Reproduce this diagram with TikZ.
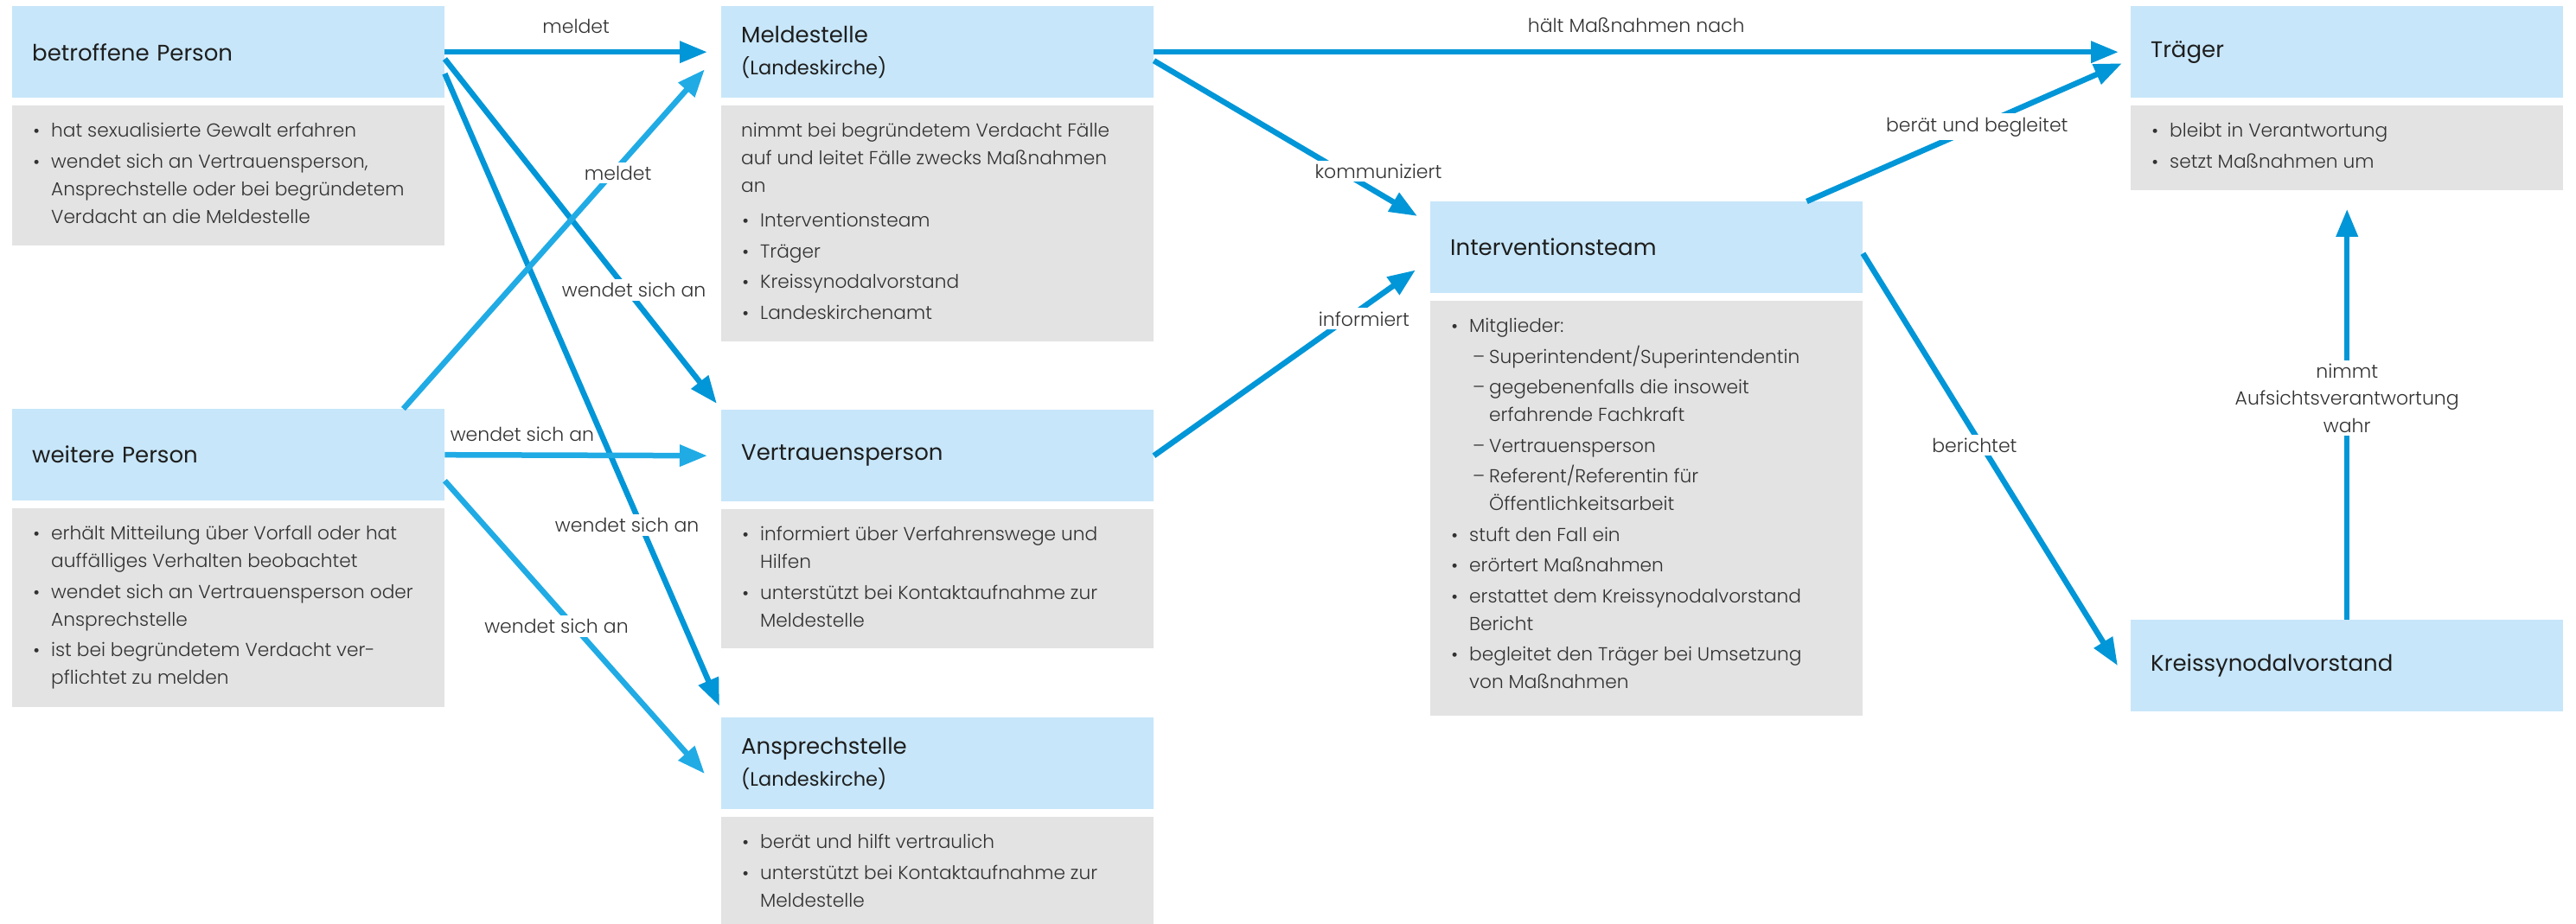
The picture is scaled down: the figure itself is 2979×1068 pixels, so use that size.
\documentclass[tikz,border=0pt]{standalone}
\usepackage{fontspec}
\IfFontExistsTF{Poppins Light}{\setmainfont{Poppins Light}}{\setmainfont{Poppins}}
\newfontfamily\kopffont{Poppins}
\usetikzlibrary{arrows.meta,positioning}

\definecolor{kopfblau}{RGB}{199,230,249}
\definecolor{kastengrau}{RGB}{227,227,228}
\definecolor{pfeildunkel}{RGB}{0,150,215}
\definecolor{pfeilhell}{RGB}{32,171,229}
\definecolor{schrift}{RGB}{50,50,50}
\definecolor{kopfschrift}{RGB}{30,30,30}

\newcommand{\punkt}{{\kopffont\fontsize{20}{20}\selectfont\textbullet}}
\newcommand{\pkt}{\par\hangindent=22pt\hangafter=1\noindent\strut\makebox[22pt][l]{\hspace*{1pt}\punkt}}
\newcommand{\strich}{\par\hangindent=45pt\hangafter=1\noindent\strut\hspace*{26pt}\makebox[19pt][l]{–}}
\newcommand{\inhalt}[2]{\parbox[c][#1][t]{454pt}{\setlength{\parskip}{3.5pt}\vspace*{11pt}#2}}
\newcommand{\zusatz}[1]{{\fontsize{22.5}{37}\selectfont #1}}

\tikzset{
  kopf/.style={anchor=north west, fill=kopfblau, text=kopfschrift
    , minimum width=500pt, minimum height=106pt, text width=454pt
    , inner xsep=23pt, inner ysep=0pt, align=left
    , font=\kopffont\fontsize{26}{37}\selectfont},
  liste/.style={fill=kastengrau, text=schrift, inner xsep=23pt, inner ysep=0pt
    , font=\fontsize{21.7}{32}\selectfont},
  pfeil/.style={-{Triangle[length=32pt,width=24pt]}, line width=6.5pt, pfeildunkel},
  hellpfeil/.style={pfeil, pfeilhell},
  lbl/.style={text=schrift, inner sep=3pt, font=\fontsize{22}{31.5}\selectfont},
  cut/.style={lbl, fill=white, inner sep=4pt}
}

\begin{document}
\begin{tikzpicture}[x=1pt, y=-1pt]
    \useasboundingbox (0,0) rectangle (2979,1068);

    \node[kopf] (betroffen) at (14,7) {betroffene Person};
    \node[liste, below=8pt of betroffen.south west, anchor=north west] (betroffenText)
      {\inhalt{162pt}{\pkt hat sexualisierte Gewalt erfahren
       \pkt wendet sich an Vertrauensperson,\\ Ansprechstelle oder bei begründetem\\ Verdacht an die Meldestelle}};

    \node[kopf] (weitere) at (14,473) {weitere Person};
    \node[liste, below=8pt of weitere.south west, anchor=north west] (weitereText)
      {\inhalt{230pt}{\pkt erhält Mitteilung über Vorfall oder hat\\ auffälliges Verhalten beobachtet
       \pkt wendet sich an Vertrauensperson oder\\ Ansprechstelle
       \pkt ist bei begründetem Verdacht ver-\\ pflichtet zu melden}};

    \node[kopf] (melde) at (834,7) {Meldestelle\\\zusatz{(Landeskirche)}};
    \node[liste, below=8pt of melde.south west, anchor=north west] (meldeText)
      {\inhalt{273pt}{\strut nimmt bei begründetem Verdacht Fälle\\ auf und leitet Fälle zwecks Maßnahmen\\ an
       \par\vspace{4.5pt}
       \pkt Interventionsteam \pkt Träger \pkt Kreissynodalvorstand \pkt Landeskirchenamt}};

    \node[kopf] (vertrauen) at (834,474) {Vertrauensperson};
    \node[liste, below=8pt of vertrauen.south west, anchor=north west] (vertrauenText)
      {\inhalt{161pt}{\pkt informiert über Verfahrenswege und\\ Hilfen
       \pkt unterstützt bei Kontaktaufnahme zur\\ Meldestelle}};

    \node[kopf] (ansprech) at (834,830) {Ansprechstelle\\\zusatz{(Landeskirche)}};
    \node[liste, below=8pt of ansprech.south west, anchor=north west] (ansprechText)
      {\inhalt{140pt}{\pkt berät und hilft vertraulich
       \pkt unterstützt bei Kontaktaufnahme zur\\ Meldestelle}};

    \node[kopf] (interv) at (1654,233) {Interventionsteam};
    \node[liste, below=8pt of interv.south west, anchor=north west] (intervText)
      {\inhalt{480pt}{\pkt Mitglieder:
       \strich Superintendent/Superintendentin
       \strich gegebenenfalls die insoweit\\ erfahrende Fachkraft
       \strich Vertrauensperson
       \strich Referent/Referentin für\\ Öffentlichkeitsarbeit
       \pkt stuft den Fall ein
       \pkt erörtert Maßnahmen
       \pkt erstattet dem Kreissynodalvorstand\\ Bericht
       \pkt begleitet den Träger bei Umsetzung\\ von Maßnahmen}};

    \node[kopf] (traeger) at (2464,7) {Träger};
    \node[liste, below=8pt of traeger.south west, anchor=north west] (traegerText)
      {\inhalt{98pt}{\pkt bleibt in Verantwortung \pkt setzt Maßnahmen um}};

    \node[kopf] (kreis) at (2464,717) {Kreissynodalvorstand};

    \draw[pfeil] (betroffen.east) -- node[lbl, midway, yshift=30pt] {meldet} ([xshift=-16pt]melde.west);
    \draw[pfeil] ([yshift=-8pt]betroffen.east) -- node[cut, pos=0.67, xshift=8pt] {wendet sich an} ([xshift=-5pt,yshift=7pt]vertrauen.north west);
    \draw[pfeil] ([yshift=-25pt]betroffen.east) -- node[cut, pos=0.714, xshift=-16pt] {wendet sich an} ([xshift=-2pt,yshift=13pt]ansprech.north west);

    \draw[hellpfeil] ([xshift=-48pt]weitere.north east) -- node[cut, pos=0.695, xshift=6pt] {meldet} ([xshift=-19pt,yshift=-20pt]melde.west);
    \draw[hellpfeil] (weitere.east) -- node[lbl, pos=0.295, yshift=24pt] {wendet sich an} ([xshift=-16pt]vertrauen.west);
    \draw[hellpfeil] ([yshift=-30pt]weitere.east) -- node[cut, pos=0.496, xshift=-20pt] {wendet sich an} ([xshift=-19pt,yshift=-12pt]ansprech.west);

    \draw[pfeil] (melde.east) -- node[lbl, midway, yshift=31pt] {hält Maßnahmen nach} ([xshift=-14pt]traeger.west);
    \draw[pfeil] ([yshift=-10pt]melde.east) -- node[cut, pos=0.711, xshift=43pt] {kommuniziert} ([xshift=-15pt,yshift=-17pt]interv.north west);
    \draw[pfeil] (vertrauen.east) -- node[cut, pos=0.737, xshift=20pt] {informiert} ([xshift=-17pt,yshift=27pt]interv.south west);

    \draw[pfeil] ([xshift=-65pt]interv.north east) -- node[cut, pos=0.54] {berät und begleitet} ([xshift=-10pt,yshift=-13pt]traeger.west);
    \draw[pfeil] ([yshift=-7pt]interv.east) -- node[cut, pos=0.465, xshift=-8pt] {berichtet} ([xshift=-15pt]kreis.west);
    \draw[pfeil] (kreis.north) -- node[cut, pos=0.54, align=center] {nimmt\\Aufsichtsverantwortung\\wahr} ([yshift=-22pt]traegerText.south);
\end{tikzpicture}
\end{document}
